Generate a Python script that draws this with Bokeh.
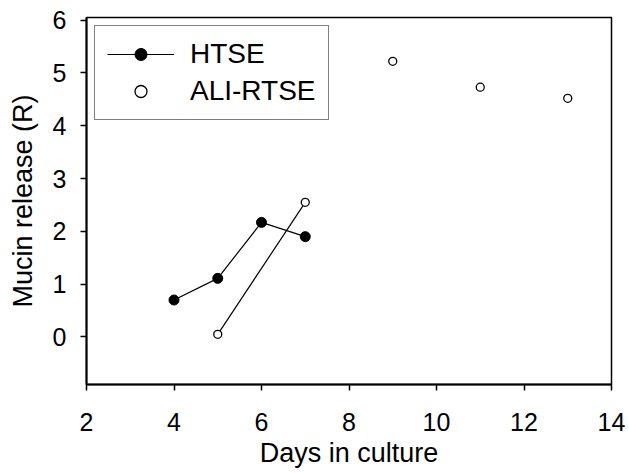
from bokeh.plotting import figure
from bokeh.models import Range1d, Legend, LegendItem, FixedTicker
from bokeh.embed import file_html
from bokeh.resources import INLINE

# Data
htse_days = [4, 5, 6, 7]
htse_release = [0.70, 1.11, 2.17, 1.90]
ali_days = [5, 7, 9, 11, 13]
ali_release = [0.05, 2.55, 5.22, 4.73, 4.52]
x_ticks = [2, 4, 6, 8, 10, 12, 14]
y_ticks = [0, 1, 2, 3, 4, 5, 6]

FONT = "Liberation Sans"

p = figure(width=629, height=473, output_backend="svg", toolbar_location=None,
           x_range=Range1d(2, 14), y_range=Range1d(-0.9, 6.05),
           min_border_left=86, min_border_right=18, min_border_top=17, min_border_bottom=89)
p.background_fill_color = "white"
p.border_fill_color = "white"
p.outline_line_color = "black"
p.outline_line_width = 1.5
p.xgrid.visible = False
p.ygrid.visible = False

for ax in (p.xaxis[0], p.yaxis[0]):
    ax.axis_line_color = "black"
    ax.axis_line_width = 2
    ax.major_tick_line_color = "black"
    ax.major_tick_line_width = 1.5
    ax.major_tick_out = 6
    ax.major_tick_in = 0
    ax.minor_tick_line_color = None
    ax.major_label_text_font = FONT
    ax.major_label_text_font_size = "25px"
    ax.major_label_text_color = "black"
    ax.axis_label_text_font = FONT
    ax.axis_label_text_font_size = "27px"
    ax.axis_label_text_font_style = "normal"
    ax.axis_label_text_color = "black"

p.xaxis[0].ticker = FixedTicker(ticks=x_ticks)
p.yaxis[0].ticker = FixedTicker(ticks=y_ticks)
p.xaxis[0].axis_label = "Days in culture"
p.yaxis[0].axis_label = "Mucin release (R)"
p.xaxis[0].major_label_standoff = 22
p.yaxis[0].major_label_standoff = 14
p.xaxis[0].axis_label_standoff = 4
p.yaxis[0].axis_label_standoff = 12

htse_line = p.line(htse_days, htse_release, line_color="black", line_width=1.2)
htse_pts = p.scatter(htse_days, htse_release, marker="circle", size=10,
                     fill_color="black", line_color="black")
ali_line = p.line(ali_days[:2], ali_release[:2], line_color="black", line_width=1.2)
ali_pts = p.scatter(ali_days, ali_release, marker="circle", size=8,
                    fill_color="white", line_color="black", line_width=1.3)

legend = Legend(items=[LegendItem(label="HTSE", renderers=[htse_line, htse_pts]),
                       LegendItem(label="ALI-RTSE", renderers=[ali_pts])],
                location="top_left")
legend.margin = 8
legend.padding = 12
legend.spacing = 5
legend.glyph_width = 67
legend.glyph_height = 30
legend.label_height = 30
legend.label_standoff = 16
legend.label_text_font = FONT
legend.label_text_font_size = "28px"
legend.label_text_color = "black"
legend.border_line_color = "black"
legend.border_line_width = 1.2
legend.background_fill_color = "white"
legend.background_fill_alpha = 1
p.add_layout(legend)

open("out.html", "w").write(file_html(p, INLINE))
